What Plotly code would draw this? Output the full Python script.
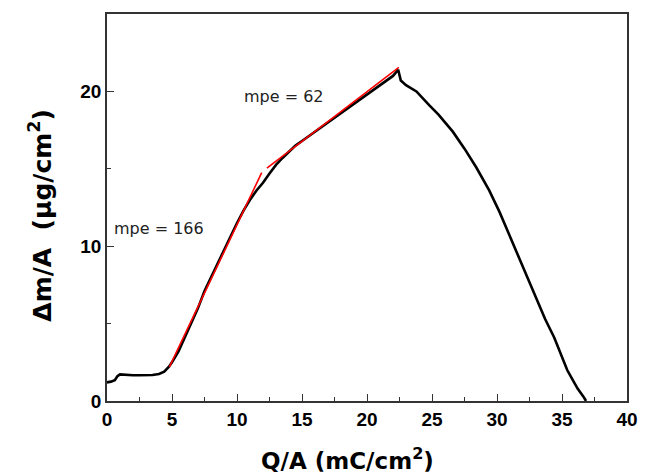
import plotly.graph_objects as go

# Measured curve (Q/A in mC/cm^2, dm/A in ug/cm^2)
q = [0.0, 0.3, 0.6, 0.8, 1.0, 1.5, 2.0, 2.5, 3.0, 3.5, 4.0, 4.4, 4.75,
     5.0, 5.5, 6.0, 6.5, 7.0, 7.5, 8.0, 8.5, 9.0, 9.5, 10.0, 10.5, 11.0,
     11.5, 12.0, 12.5, 13.0, 13.5, 14.0, 14.5, 15.0, 15.5, 16.0, 16.5, 17.0,
     17.5, 18.0, 18.5, 19.0, 19.5, 20.0, 20.5, 21.0, 21.5, 22.0, 22.4,
     22.5, 22.6, 23.0, 23.8, 24.8, 25.5, 26.6, 27.5, 28.4, 29.4, 30.2, 31.1,
     32.0, 32.9, 33.7, 34.4, 35.0, 35.4, 35.8, 36.2, 36.65, 36.85]
dm = [1.2, 1.25, 1.35, 1.6, 1.72, 1.68, 1.66, 1.66, 1.66, 1.68, 1.75, 1.9, 2.2,
      2.5, 3.2, 4.1, 5.0, 6.0, 7.1, 8.0, 8.9, 9.8, 10.7, 11.5, 12.3, 13.0,
      13.6, 14.1, 14.7, 15.25, 15.7, 16.1, 16.5, 16.8, 17.1, 17.4, 17.7, 18.0,
      18.3, 18.6, 18.9, 19.2, 19.5, 19.8, 20.1, 20.4, 20.7, 21.0, 21.4,
      21.0, 20.7, 20.4, 20.0, 19.1, 18.5, 17.4, 16.3, 15.1, 13.6, 12.2, 10.4,
      8.7, 6.9, 5.3, 4.1, 2.9, 2.0, 1.4, 0.8, 0.28, 0.0]

# Linear fits (red)
fit1_q = [4.8, 11.9]
fit1_dm = [2.2, 14.75]
fit2_q = [12.3, 22.45]
fit2_dm = [15.05, 21.55]

labels = ["mpe = 166", "mpe = 62"]
label_q = [4.0, 13.6]
label_dm = [11.15, 19.7]

x_ticks = [0, 5, 10, 15, 20, 25, 30, 35, 40]
y_ticks = [0, 10, 20]

x_title = "<b>Q/A (mC/cm<sup>2</sup>)</b>"
y_title = "<b>\u0394m/A  (\u03bcg/cm<sup>2</sup>)</b>"

TICK_FONT = "Liberation Sans, Arial"
TEXT_FONT = "DejaVu Sans, Verdana"

fig = go.Figure()
fig.add_trace(go.Scatter(x=q, y=dm, mode="lines",
                         line=dict(color="black", width=2.6), showlegend=False))
fig.add_trace(go.Scatter(x=fit1_q, y=fit1_dm, mode="lines",
                         line=dict(color="#ff0000", width=1.6), showlegend=False))
fig.add_trace(go.Scatter(x=fit2_q, y=fit2_dm, mode="lines",
                         line=dict(color="#ff0000", width=1.6), showlegend=False))

for t, xq, yd in zip(labels, label_q, label_dm):
    fig.add_annotation(x=xq, y=yd, text=t, showarrow=False,
                       font=dict(family=TEXT_FONT, size=16, color="#222"))

# Axis titles placed as paper annotations
fig.add_annotation(xref="paper", yref="paper", x=0.462, y=-0.194, yanchor="bottom",
                   text=x_title, showarrow=False,
                   font=dict(family=TEXT_FONT, size=23, color="black"))
fig.add_annotation(xref="paper", yref="paper", x=-0.128, y=0.48, xanchor="center",
                   yanchor="middle", textangle=-90, text=y_title, showarrow=False,
                   font=dict(family=TEXT_FONT, size=25, color="black"))

axis_common = dict(
    showgrid=False, zeroline=False, showline=True, linecolor="#333", linewidth=1.5,
    mirror=True, ticks="inside", tickcolor="#333", tickwidth=1.3, ticklen=7,
    tickfont=dict(family=TICK_FONT, size=19, color="black", weight="bold"),
)

fig.update_xaxes(range=[0, 40], tickvals=x_ticks, ticktext=[str(v) for v in x_ticks],
                 minor=dict(ticks="inside", dtick=2.5, ticklen=4, tickcolor="#333", tickwidth=1.3),
                 **axis_common)
fig.update_yaxes(range=[0, 25], tickvals=y_ticks, ticktext=[str(v) for v in y_ticks],
                 minor=dict(ticks="inside", dtick=5, ticklen=4, tickcolor="#333", tickwidth=1.3),
                 **axis_common)

fig.update_layout(width=650, height=476, plot_bgcolor="white", paper_bgcolor="white",
                  margin=dict(l=107, r=12, t=14, b=75))

fig.write_html("out.html")
